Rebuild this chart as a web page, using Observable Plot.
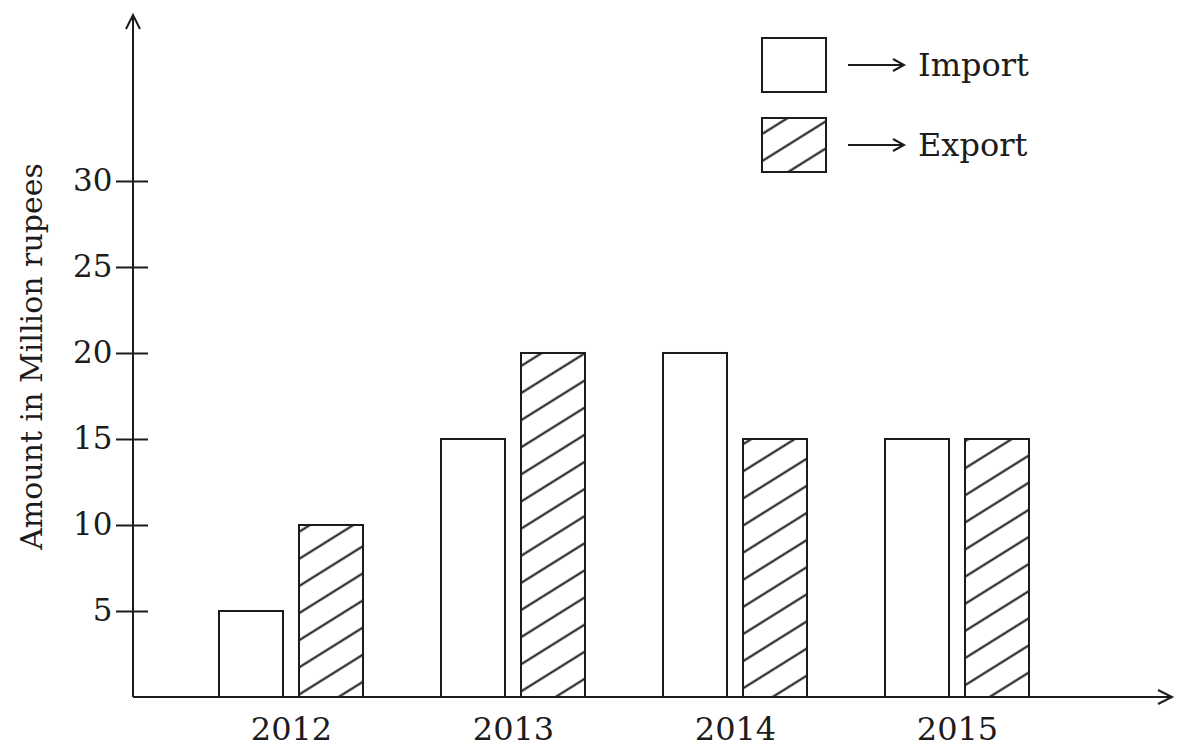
<!DOCTYPE html>
<html><head><meta charset="utf-8">
<script src="https://cdn.jsdelivr.net/npm/d3@7"></script>
<script src="https://cdn.jsdelivr.net/npm/@observablehq/plot@0.6"></script>
<style>
html,body{margin:0;padding:0;background:#fff;}
#wrap{position:relative;width:1177px;height:751px;font-family:"DejaVu Serif",serif;color:#1c1c1c;}
#legend{position:absolute;left:0;top:0;pointer-events:none;}
</style></head><body><div id="wrap"></div>
<script>
// ---- data ----
const years = ["2012", "2013", "2014", "2015"];
const importValues = [5, 15, 20, 15];
const exportValues = [10, 20, 15, 15];
const yTicks = [5, 10, 15, 20, 25, 30];
const seriesNames = ["Import", "Export"];
const yLabel = "Amount in Million rupees";

const importData = years.map((year, i) => ({year, value: importValues[i]}));
const exportData = years.map((year, i) => ({year, value: exportValues[i]}));

const W = 1177, H = 751;
const mL = 133, mR = 5, mT = 15, mB = 54;
const ink = "#1c1c1c";

function axesMark(index, scales, values, dim) {
  const g = d3.create("svg:g").attr("fill", "none").attr("stroke", ink).attr("stroke-width", 2);
  const x0 = dim.marginLeft, y0 = dim.height - dim.marginBottom;
  const top = dim.marginTop, right = dim.width - dim.marginRight;
  g.append("path").attr("d", `M${x0},${y0}V${top}`);
  g.append("path").attr("d", `M${x0 - 7},${top + 14}L${x0},${top}L${x0 + 7},${top + 14}`);
  g.append("path").attr("d", `M${x0},${y0}H${right}`);
  g.append("path").attr("d", `M${right - 14},${y0 - 7}L${right},${y0}L${right - 14},${y0 + 7}`);
  return g.node();
}

const svg = Plot.plot({
  width: W, height: H,
  marginLeft: mL, marginRight: mR, marginTop: mT, marginBottom: mB,
  style: {fontFamily: "'DejaVu Serif', serif", fontSize: "31px", color: ink, background: "transparent"},
  x: {domain: years, paddingInner: 0.351, paddingOuter: 0.515, align: 0.374, label: null},
  y: {domain: [0, 39.65], label: null},
  marks: [
    Plot.barY(importData, {x: "year", y: "value", insetRight: 80, fill: "white", stroke: ink, strokeWidth: 2}),
    Plot.barY(exportData, {x: "year", y: "value", insetLeft: 80, fill: "url(#hatch)", stroke: ink, strokeWidth: 2}),
    Plot.tickY(yTicks, {y: d => d, insetLeft: -17, insetRight: W - mL - mR - 15, stroke: ink, strokeWidth: 2}),
    Plot.axisY(yTicks, {tickSize: 0, tickPadding: 21, fontSize: 31, label: null}),
    Plot.axisX({tickSize: 0, tickPadding: 20, fontSize: 32, label: null}),
    Plot.text([yLabel], {frameAnchor: "left", textAnchor: "middle", rotate: -90, dx: -101, fontSize: 30, fill: ink}),
    axesMark
  ]
});

const defs = d3.select(svg).insert("defs", ":first-child");
const pat = defs.append("pattern").attr("id", "hatch").attr("patternUnits", "userSpaceOnUse")
  .attr("width", 12).attr("height", 23).attr("patternTransform", "rotate(-32)");
pat.append("rect").attr("width", 12).attr("height", 23).attr("fill", "white");
pat.append("line").attr("x1", 0).attr("x2", 12).attr("y1", 11.5).attr("y2", 11.5)
  .attr("stroke", "#111").attr("stroke-width", 2);

const wrap = document.getElementById("wrap");
wrap.appendChild(svg);

// ---- legend ----
const leg = d3.create("svg").attr("id", "legend").attr("width", W).attr("height", 200);
const legendRows = [{name: seriesNames[0], fill: "white", y: 38}, {name: seriesNames[1], fill: "url(#hatch)", y: 118}];
legendRows.forEach(r => {
  leg.append("rect").attr("x", 762).attr("y", r.y).attr("width", 64).attr("height", 54)
    .attr("fill", r.fill).attr("stroke", ink).attr("stroke-width", 2);
  const ay = r.y + 27;
  leg.append("path").attr("d", `M848,${ay}H903`).attr("stroke", ink).attr("stroke-width", 2).attr("fill", "none");
  leg.append("path").attr("d", `M893,${ay - 6}L904,${ay}L893,${ay + 6}`).attr("stroke", ink).attr("stroke-width", 2).attr("fill", "none");
  leg.append("text").attr("x", 918).attr("y", ay).attr("dy", "0.35em").attr("font-size", 32)
    .attr("font-family", "'DejaVu Serif', serif").attr("fill", ink).text(r.name);
});
wrap.appendChild(leg.node());
</script></body></html>
